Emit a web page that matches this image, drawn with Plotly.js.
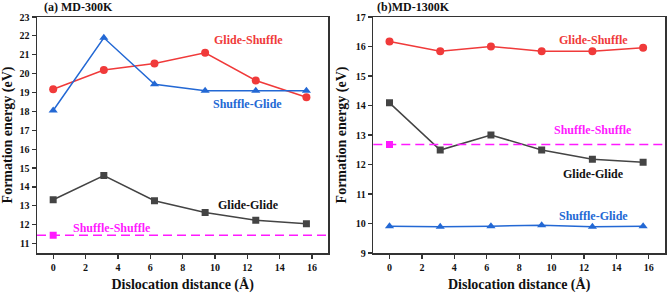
<!DOCTYPE html>
<html>
<head>
<meta charset="utf-8">
<script src="https://cdn.plot.ly/plotly-3.0.1.min.js"></script>
<style>html,body{margin:0;padding:0;background:#fff;}#chart{width:668px;height:293px;}</style>
</head>
<body>
<div id="chart"></div>
<script>
// Dislocation distance (Å)
const distance = [0, 3.13, 6.26, 9.39, 12.52, 15.65];

// (a) MD-300K formation energies (eV)
const a_glideShuffle = [19.17, 20.19, 20.54, 21.10, 19.64, 18.75];
const a_shuffleGlide = [18.05, 21.90, 19.44, 19.10, 19.10, 19.10];
const a_glideGlide   = [13.32, 14.60, 13.27, 12.65, 12.24, 12.05];
const a_shuffleShuffle = 11.44;

// (b) MD-1300K formation energies (eV)
const b_glideShuffle = [16.17, 15.84, 16.00, 15.84, 15.84, 15.96];
const b_glideGlide   = [14.09, 12.49, 13.00, 12.49, 12.18, 12.08];
const b_shuffleGlide = [9.91, 9.89, 9.91, 9.94, 9.89, 9.91];
const b_shuffleShuffle = 12.68;

const panelTitles = ["(a) MD-300K", "(b)MD-1300K"];
const seriesNames = ["Glide-Shuffle", "Shuffle-Glide", "Glide-Glide", "Shuffle-Shuffle"];
const xTitle = "Dislocation distance (Å)";
const yTitle = "Formation energy (eV)";

const RED = "#f03a3a", BLUE = "#2368d4", MAG = "#ff1aff";
const FONT = "Liberation Serif, Times New Roman, serif";

function line(x, y, color, symbol, size, xa, ya, name) {
  return {x: x, y: y, type: "scatter", mode: "lines+markers", name: name,
    xaxis: xa, yaxis: ya, line: {color: color, width: 1.5},
    marker: {color: color, symbol: symbol, size: size}};
}

const traces = [
  line(distance, a_glideShuffle, RED, "circle", 8, "x", "y", seriesNames[0]),
  line(distance, a_shuffleGlide, BLUE, "triangle-up", 8, "x", "y", seriesNames[1]),
  line(distance, a_glideGlide, "#444", "square", 7, "x", "y", seriesNames[2]),
  {x: [distance[0]], y: [a_shuffleShuffle], type: "scatter", mode: "markers", xaxis: "x", yaxis: "y",
   name: seriesNames[3], marker: {color: MAG, symbol: "square", size: 7}},
  line(distance, b_glideShuffle, RED, "circle", 8, "x2", "y2", seriesNames[0]),
  line(distance, b_glideGlide, "#444", "square", 7, "x2", "y2", seriesNames[2]),
  line(distance, b_shuffleGlide, BLUE, "triangle-up", 8, "x2", "y2", seriesNames[1]),
  {x: [distance[0]], y: [b_shuffleShuffle], type: "scatter", mode: "markers", xaxis: "x2", yaxis: "y2",
   name: seriesNames[3], marker: {color: MAG, symbol: "square", size: 7}}
];

function xax(domain, anchor) {
  return {domain: domain, anchor: anchor, range: [-1, 17], tick0: 0, dtick: 2,
    showline: true, mirror: true, linecolor: "#333", linewidth: 1.5,
    ticks: "outside", ticklen: 4, tickwidth: 1.2, tickcolor: "#333", showgrid: false, zeroline: false,
    tickfont: {family: FONT, size: 10, color: "#111", weight: "bold"},
    title: {text: "<b>" + xTitle + "</b>", font: {family: FONT, size: 14, color: "#111"}, standoff: 8}};
}
function yax(domain, anchor, range) {
  return {domain: domain, anchor: anchor, range: range, dtick: 1,
    showline: true, mirror: true, linecolor: "#333", linewidth: 1.5,
    ticks: "outside", ticklen: 4, tickwidth: 1.2, tickcolor: "#333", showgrid: false, zeroline: false,
    tickfont: {family: FONT, size: 10, color: "#111", weight: "bold"},
    title: {text: "<b>" + yTitle + "</b>", font: {family: FONT, size: 14, color: "#111"}, standoff: 6}};
}

function ann(text, x, y, color, xref, yref) {
  return {text: "<b>" + text + "</b>", x: x, y: y, xref: xref, yref: yref, showarrow: false,
    font: {family: FONT, size: 12, color: color}};
}

const layout = {
  width: 668, height: 293,
  margin: {l: 37, r: 3, t: 17, b: 40},
  paper_bgcolor: "#fff", plot_bgcolor: "#fff",
  showlegend: false,
  xaxis: xax([0, 0.4638], "y"),
  yaxis: yax([0, 1], "x", [10.5, 23]),
  xaxis2: xax([0.5355, 1], "y2"),
  yaxis2: yax([0, 1], "x2", [9, 17]),
  shapes: [
    {type: "line", xref: "x domain", yref: "y", x0: 0, x1: 1, y0: a_shuffleShuffle, y1: a_shuffleShuffle,
     line: {color: MAG, width: 1.5, dash: "9px,5px"}},
    {type: "line", xref: "x2 domain", yref: "y2", x0: 0, x1: 1, y0: b_shuffleShuffle, y1: b_shuffleShuffle,
     line: {color: MAG, width: 1.5, dash: "9px,5px"}}
  ],
  annotations: [
    ann(seriesNames[0], 12.07, 21.79, RED, "x", "y"),
    ann(seriesNames[1], 12.03, 18.41, BLUE, "x", "y"),
    ann(seriesNames[2], 12.1, 13.05, "#111", "x", "y"),
    ann(seriesNames[3], 3.66, 11.8, MAG, "x", "y"),
    ann(seriesNames[0], 12.6, 16.21, RED, "x2", "y2"),
    ann(seriesNames[3], 12.56, 13.16, MAG, "x2", "y2"),
    ann(seriesNames[2], 12.6, 11.67, "#111", "x2", "y2"),
    ann(seriesNames[1], 12.6, 10.25, BLUE, "x2", "y2"),
    {text: "<b>" + panelTitles[0] + "</b>", xref: "paper", yref: "paper", x: 0.008, y: 1.0, yanchor: "bottom",
     xanchor: "left", yshift: 1, showarrow: false, font: {family: FONT, size: 12, color: "#111"}},
    {text: "<b>" + panelTitles[1] + "</b>", xref: "paper", yref: "paper", x: 0.5375, y: 1.0, yanchor: "bottom",
     xanchor: "left", yshift: 1, showarrow: false, font: {family: FONT, size: 12, color: "#111"}}
  ]
};

Plotly.newPlot("chart", traces, layout, {displayModeBar: false, staticPlot: true});
</script>
</body>
</html>
